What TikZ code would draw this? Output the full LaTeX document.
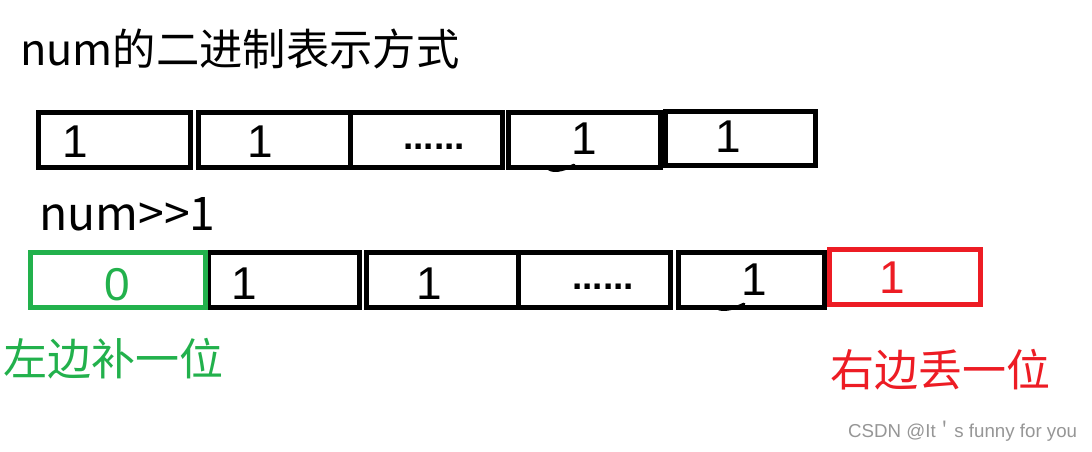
\documentclass[tikz,border=0pt]{standalone}
\usepackage{fontspec}
\setmainfont{Liberation Sans}
\newfontfamily\cjk{Noto Sans CJK SC}
\definecolor{pgreen}{RGB}{34,177,76}
\definecolor{pred}{RGB}{237,28,36}
\definecolor{wmgray}{RGB}{150,150,150}
\begin{document}
\begin{tikzpicture}[x=1pt,y=-1pt,
  cell/.style={draw=black, line width=5pt, inner sep=0pt, outer sep=0pt, minimum height=55pt, fill=none},
  digit/.style={inner sep=0pt, font=\fontsize{46}{50}\selectfont},
  dots/.style={inner sep=0pt, font=\bfseries\fontsize{37}{40}\selectfont},
  bigtext/.style={inner sep=0pt, font=\cjk\fontsize{#1}{#1}\selectfont},
  scribble/.style={line width=2.8pt, line cap=round}
]
\useasboundingbox[fill=white] (0,0) rectangle (1092,451);

% title
\node[bigtext=43.3, anchor=west] (title) at (20,48.5) {num的二进制表示方式};

% top row
\node[cell, minimum width=152pt] (t1) at (114.5,140) {};
\node[cell, minimum width=151.5pt] (t2) at (274.25,140) {};
\node[cell, minimum width=152.5pt] (t3) at (426.25,140) {};
\node[cell, minimum width=152pt] (t4) at (584.5,140) {};
\node[cell, minimum width=150pt, minimum height=54pt] (t5) at (740.5,138.5) {};
\node[digit] (d1) at (75,141.5) {1};
\node[digit] (d2) at (260,141.5) {1};
\node[dots] (d3) at (434,147) {......};
\node[digit] (d4) at (584,138.5) {1};
\node[digit] (d5) at (728,137) {1};
\coordinate (s1a) at (547,167);
\coordinate (s1b) at (574,165);
\draw[scribble] (s1a) .. controls (551,173) and (562,171) .. (s1b);

% second label
\node[bigtext=46.3, anchor=base west] (shift) at (39,230) {num>>1};

% bottom row
\node[cell, minimum width=151pt] (b1) at (284,280) {};
\node[cell, draw=pgreen, minimum width=175pt] (b0) at (118,280) {};
\node[cell, minimum width=151.5pt] (b2) at (442.25,280) {};
\node[cell, minimum width=152.5pt] (b3) at (594.25,280) {};
\node[cell, minimum width=146pt] (b4) at (751.5,280) {};
\node[cell, draw=pred, minimum width=151pt] (b5) at (905,277) {};
\node[digit, text=pgreen] (e0) at (117.5,285) {0};
\node[digit] (e1) at (244,284) {1};
\node[digit] (e2) at (429,284) {1};
\node[dots] (e3) at (603,287) {......};
\node[digit] (e4) at (754,280) {1};
\node[digit, text=pred] (e5) at (892,278) {1};
\coordinate (s2a) at (715,306);
\coordinate (s2b) at (744,304);
\draw[scribble] (s2a) .. controls (719,312) and (731,310) .. (s2b);

% side labels
\node[bigtext=44, anchor=west, text=pgreen] (left) at (3,359) {左边补一位};
\node[bigtext=44, anchor=west, text=pred] (right) at (830,370) {右边丢一位};

% watermark
\node[inner sep=0pt, anchor=base west, text=wmgray, font=\fontsize{18.7}{20}\selectfont] (wm) at (848,437) {CSDN @It{\cjk ＇}s funny for you};
\end{tikzpicture}
\end{document}
